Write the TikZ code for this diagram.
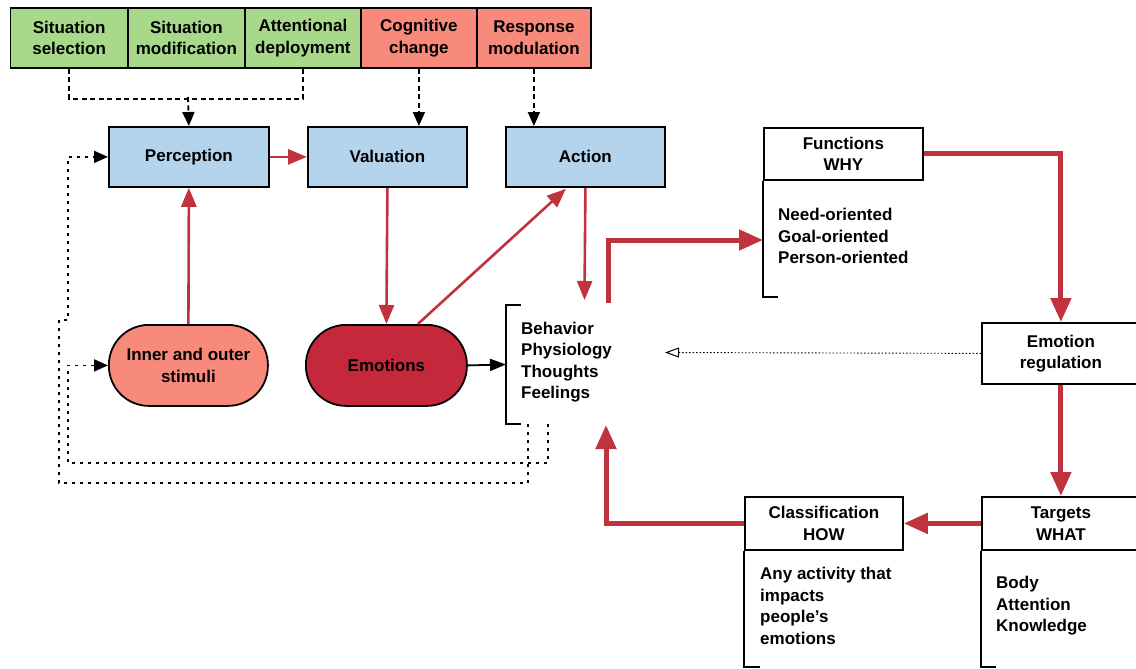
\documentclass[tikz,border=0pt]{standalone}
\usepackage{fontspec}
\setmainfont{Liberation Sans}
\usetikzlibrary{arrows.meta,calc}
\definecolor{grn}{HTML}{A8D88A}
\definecolor{salm}{HTML}{F88A7B}
\definecolor{blu}{HTML}{B4D4EE}
\definecolor{emored}{HTML}{C6283B}
\definecolor{arrred}{HTML}{C1323F}
\newcommand{\dfont}{\fontsize{17}{21.5}\selectfont\bfseries}
\begin{document}
\begin{tikzpicture}[x=1pt,y=-1pt,
  box/.style={draw=black,line width=1.8pt,inner sep=0pt,align=center,anchor=north west,font=\dfont},
  txt/.style={inner sep=0pt,align=left,anchor=west,font=\dfont},
  redarr/.style={draw=arrred,line width=2.6pt,-{Triangle[length=19pt,width=15pt]}},
  thickarr/.style={draw=arrred,line width=5pt,-{Triangle[length=24pt,width=20pt]}},
  blkdash/.style={draw=black,line width=1.8pt,dash pattern=on 5pt off 3.5pt},
  blktip/.style={-{Triangle[length=14pt,width=12pt]}},
  fbdot/.style={draw=black,line width=1.8pt,dash pattern=on 3pt off 5pt},
  brk/.style={draw=black,line width=1.6pt}]
\useasboundingbox (0,0) rectangle (1136,669);
\clip (0,0) rectangle (1136,669);
% top row
\node[box,fill=grn,minimum width=117.5pt,minimum height=60pt] (ss) at (9.5,7) {Situation\\selection};
\node[box,fill=grn,minimum width=117pt,minimum height=60pt] (sm) at (127,7) {Situation\\modification};
\node[box,fill=grn,minimum width=116pt,minimum height=60pt] (ad) at (244,7) {Attentional\\deployment};
\node[box,fill=salm,minimum width=116pt,minimum height=60pt] (cc) at (360,7) {Cognitive\\change};
\node[box,fill=salm,minimum width=114pt,minimum height=60pt] (rm) at (476,7) {Response\\modulation};
% blue row
\node[box,fill=blu,minimum width=160pt,minimum height=60pt] (perc) at (108,126) {Perception};
\node[box,fill=blu,minimum width=159pt,minimum height=60pt] (val) at (307,126) {Valuation};
\node[box,fill=blu,minimum width=159pt,minimum height=60pt] (act) at (505,126) {Action};
% rounded
\node[box,fill=salm,rounded corners=40pt,minimum width=159pt,minimum height=81pt] (stim) at (108,324) {Inner and outer\\stimuli};
\node[box,fill=emored,rounded corners=40pt,minimum width=161pt,minimum height=81pt] (emo) at (305,324) {Emotions};
% behavior bracket
\node[txt] (bhv) at (521,362) {Behavior\\Physiology\\Thoughts\\Feelings};
\draw[brk] (521,305) -- (506,305) -- (506,424) -- (521,424);
\coordinate (bl) at (506,364.5);
% functions
\node[box,minimum width=159pt,minimum height=52pt] (fun) at (763,127) {Functions\\WHY};
\draw[brk] (fun.south west) -- (763,297) -- (778,297);
\node[txt] (funt) at (778,236) {Need-oriented\\Goal-oriented\\Person-oriented};
\coordinate (fl) at (763,240);
% emotion regulation
\node[box,minimum width=158pt,minimum height=61pt] (er) at (981,322) {Emotion\\regulation};
% targets
\node[box,minimum width=158pt,minimum height=53pt] (tgt) at (981,496) {Targets\\WHAT};
\draw[brk] (tgt.south west) -- (981,667) -- (996,667);
\node[txt] (tgtt) at (996,606) {Body\\Attention\\Knowledge};
% classification
\node[box,minimum width=158pt,minimum height=53pt] (cls) at (744,496) {Classification\\HOW};
\draw[brk] (cls.south west) -- (744,667) -- (760,667);
\node[txt] (clst) at (760,606) {Any activity that\\impacts\\people’s\\emotions};
% dashed from top row
\draw[blkdash] (ss.south) -- ++(0,30) -| (ad.south);
\draw[blkdash,blktip] (188,97) -- (perc.north);
\draw[blkdash,blktip] (cc.south) -- (cc.south |- val.north);
\draw[blkdash,blktip] (rm.south) -- (rm.south |- act.north);
% red thin arrows
\draw[redarr] (perc.east) -- (val.west);
\draw[redarr] (stim.north) -- (perc.south);
\draw[redarr] (val.south) -- (emo.north);
\draw[redarr] ($(emo.north)+(31.5,0)$) -- ($(act.south)+(-19.5,1)$);
\coordinate (a1) at (584.5,300);
\draw[redarr] (act.south) -- (a1);
% black arrow
\draw[draw=black,line width=1.8pt,-{Triangle[length=16pt,width=12pt]}] (emo.east) -- (bl);
% thick red loop
\coordinate (b1) at (608,303);
\draw[thickarr] (b1) -- (608,240) -- (fl);
\draw[thickarr] (fun.east) -| (er.north);
\draw[thickarr] (er.south) -- (tgt.north);
\draw[thickarr] (tgt.west) -- (cls.east);
\coordinate (b2) at (606,425);
\draw[thickarr] (cls.west) -| (b2);
% dotted from regulation
\coordinate (erend) at (665,352.5);
\draw[draw=black,line width=0.9pt,dash pattern=on 1.5pt off 2pt,-{Triangle[open,length=14pt,width=10pt,line width=1pt]}] (er.west) -- (erend);
% feedback loops
\coordinate (f1) at (528,424);
\coordinate (f2) at (548,424);
\draw[fbdot,blktip] (f1) -- (528,483) -- (59,483) -- (59,320) -- (68,320) |- (perc.west);
\draw[fbdot,blktip] (f2) -- (548,463) -- (68,463) |- (stim.west);
\end{tikzpicture}
\end{document}
